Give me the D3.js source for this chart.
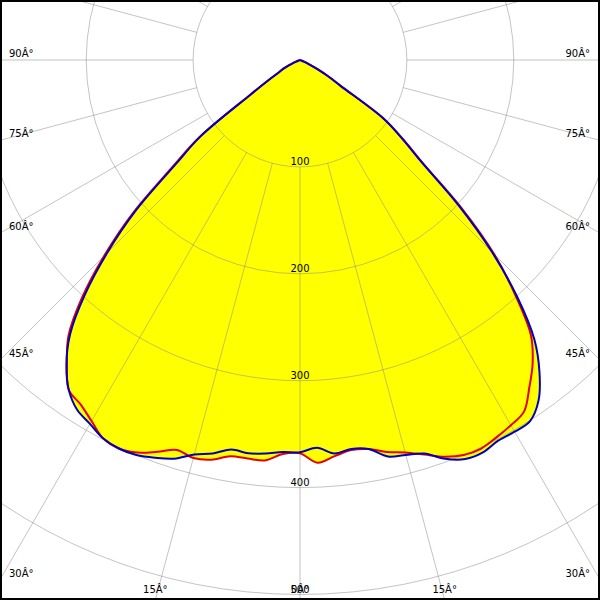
<!DOCTYPE html>
<html><head><meta charset="utf-8">
<script src="https://cdn.jsdelivr.net/npm/d3@7"></script>
<style>body{margin:0;background:#fff}svg{display:block}</style>
</head><body>
<svg id="c" width="600" height="600"></svg>
<script>
// gamma angles (degrees from nadir) at which intensities are read
const gammaAngles = [0,2.5,5,7.5,10,12.5,15,17.5,20,22.5,25,27.5,30,32.5,35,37.5,40,42.5,45,47.5,50,52.5,55,57.5,60,62.5,65,67.5,70,72.5,75,77.5,80,82.5,85,87.5,90];
// C0-C180 plane (red): left half and right half
const redLeft  = [368,369,376,376,376.5,383,385.5,382.5,390,397.5,401,399,390,382,377,358,337,302,259,212,156,119,57,34,22,17,9,4,2,1,0,0,0,0,0,0,0];
const redRight = [368,377,372,368,369.5,375.5,380,387,395,400,401,398,394.5,390,374,357.5,336,298,257,205,150,121,95,45,30,18,9,4,2,1,0,0,0,0,0,0,0];
// C90-C270 plane (blue): left half and right half
const blueLeft  = [367,367,369.5,371,370,377,382,391,396,400,401,399,393,388,377,359,334.5,298,255,208,152,117,57,34,22,17,9,4,2,1,0,0,0,0,0,0,0];
const blueRight = [367,363,369.5,367,369.5,380,382.5,386,397,404,405,401.5,401.5,400.5,389,368,341,301,254,201,148,120,95,45,30,18,9,4,2,1,0,0,0,0,0,0,0];

const radialTicks = [100,200,300,400,500];
const angleTicks = [0,15,30,45,60,75,90];
const angleLabels = ["0Â°","15Â°","30Â°","45Â°","60Â°","75Â°","90Â°"];

const W = 600, H = 600, cx = 300, cy = 60;
const r = d3.scaleLinear().domain([0,100]).range([0,106.9]);
const svg = d3.select("#c");
svg.append("rect").attr("width",W).attr("height",H).attr("fill","#fff");
const g = svg.append("g").attr("transform",`translate(${cx},${cy})`);

const rad = d => d*Math.PI/180;
function shape(left, right){
  const pts = [];
  for (let i = gammaAngles.length-1; i >= 0; i--) pts.push({a: Math.PI + rad(gammaAngles[i]), v: left[i]});
  for (let i = 1; i < gammaAngles.length; i++) pts.push({a: Math.PI - rad(gammaAngles[i]), v: right[i]});
  // drop repeated points sitting at the pole
  return pts.filter((p,i) => !(p.v === 0 && ((pts[i+1] && pts[i+1].v === 0 && i < pts.length/2) || (pts[i-1] && pts[i-1].v === 0 && i > pts.length/2))));
}
const line = d3.lineRadial().angle(d=>d.a).radius(d=>r(d.v)).curve(d3.curveCatmullRom.alpha(0.5));
const redPts = shape(redLeft, redRight), bluePts = shape(blueLeft, blueRight);

// yellow fill (union of both planes)
[redPts, bluePts].forEach(p => g.append("path").attr("d", line(p)).attr("fill","#ffff00").attr("stroke","none"));

// grid
const grid = g.append("g").attr("stroke","#8a8a8a").attr("stroke-opacity",0.5).attr("fill","none").attr("stroke-width",1);
radialTicks.forEach(v => grid.append("circle").attr("r", r(v)));
d3.range(0,360,15).forEach(a => {
  const t = rad(a);
  grid.append("line")
    .attr("x1", r(100)*Math.sin(t)).attr("y1", r(100)*Math.cos(t))
    .attr("x2", 1000*Math.sin(t)).attr("y2", 1000*Math.cos(t));
});

// radial value labels
const txt = svg.append("g").attr("font-family","DejaVu Sans, sans-serif").attr("font-size","10px").attr("fill","#000");
radialTicks.forEach(v => txt.append("text").attr("x",cx).attr("y",cy + r(v) - 2).attr("text-anchor","middle").text(v));

// angle labels at the frame edges
angleTicks.forEach((a,i) => {
  const t = rad(a);
  const sides = a === 0 ? [1] : [-1, 1];
  sides.forEach(s => {
    const tSide = a === 0 ? Infinity : (W/2)/Math.sin(t);
    const tBot = (H - cy)/Math.cos(t);
    if (tSide < tBot) {
      const y = cy + tSide*Math.cos(t) - 3;
      txt.append("text").attr("x", s < 0 ? 9 : W-10).attr("y", y)
        .attr("text-anchor", s < 0 ? "start" : "end").text(angleLabels[i]);
    } else {
      const x = cx + s*tBot*Math.sin(t);
      txt.append("text").attr("x", x).attr("y", H-7).attr("text-anchor","middle").text(angleLabels[i]);
    }
  });
});

// curves
g.append("path").attr("d", line(redPts)).attr("fill","none").attr("stroke","#e00000").attr("stroke-width",2).attr("stroke-linejoin","round");
g.append("path").attr("d", line(bluePts)).attr("fill","none").attr("stroke","#0000c0").attr("stroke-width",2).attr("stroke-linejoin","round");

// frame
svg.append("rect").attr("x",1).attr("y",1).attr("width",W-2).attr("height",H-2)
  .attr("fill","none").attr("stroke","#000").attr("stroke-width",2);
</script>
</body></html>
